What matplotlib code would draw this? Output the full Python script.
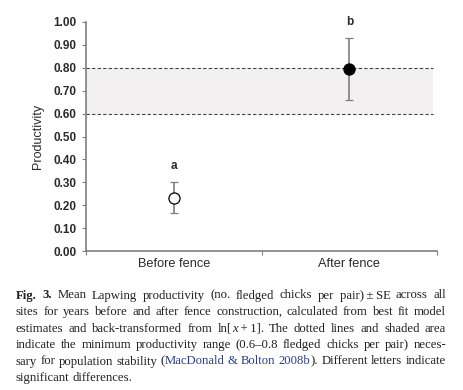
import numpy as np
import matplotlib
matplotlib.use("Agg")
import matplotlib.pyplot as plt
from matplotlib.ticker import FixedLocator

# data
groups = ["Before fence", "After fence"]
means = [0.233, 0.793]
upper = [0.300, 0.930]
lower = [0.166, 0.660]
letters = ["a", "b"]
letter_y = [0.37, 1.00]
band = (0.6, 0.8)
yticks = [0.0, 0.1, 0.2, 0.3, 0.4, 0.5, 0.6, 0.7, 0.8, 0.9, 1.0]

# caption: lines -> words -> runs of (text, style)
N, B, I, L = None, "bold", "italic", "link"
caption = [
    [[("Fig.", B)], [("3.", B)]] + [[(w, N)] for w in
        "Mean Lapwing productivity (no. fledged chicks per pair)\u2009\u00b1\u2009SE across all".split(" ")],
    [[(w, N)] for w in "sites for years before and after fence construction, calculated from best fit model".split(" ")],
    [[(w, N)] for w in "estimates and back-transformed from".split(" ")]
        + [[("ln[", N), ("x", I), ("\u2009+\u20091].", N)]]
        + [[(w, N)] for w in "The dotted lines and shaded area".split(" ")],
    [[(w, N)] for w in "indicate the minimum productivity range (0.6\u20130.8 fledged chicks per pair) neces-".split(" ")],
    [[(w, N)] for w in "sary for population stability".split(" ")]
        + [[("(", N), ("MacDonald", L)], [("&", L)], [("Bolton", L)], [("2008b", L), (").", N)]]
        + [[(w, N)] for w in "Different letters indicate".split(" ")],
    [[(w, N)] for w in "significant differences.".split(" ")],
]

plt.rcParams['font.family'] = ['Liberation Sans', 'DejaVu Sans']
gray = "#7f7f7f"
txt = "#2a2a2a"

fig = plt.figure(figsize=(4.63, 3.90), dpi=100)
ax = fig.add_axes([0.186, 0.356, 0.758, 0.588])

x = np.arange(len(groups)) + 0.5
ax.axhspan(band[0], band[1], xmin=0, xmax=0.987, color="#f2f0f0", lw=0, zorder=0)
for b in band:
    ax.plot([0, 1.975], [b, b], ls=(0, (3, 2)), color="#444444", lw=0.8, zorder=1)

faces = ["white", "black"]
for i in range(len(groups)):
    ax.errorbar(x[i], means[i],
                yerr=[[means[i] - lower[i]], [upper[i] - means[i]]],
                fmt="o", ms=8, mfc=faces[i], mec="black", mew=0.9,
                ecolor=gray, elinewidth=1.2, capsize=3, capthick=1, zorder=3)
    ax.text(x[i], letter_y[i], letters[i], ha="center", va="center",
            fontsize=8.5, color=txt, fontweight="bold")

ax.set_xlim(0, 2)
ax.set_ylim(0, 1)
ax.set_yticks(yticks)
ax.set_yticklabels([f"{v:.2f}" for v in yticks])
ax.xaxis.set_major_locator(FixedLocator([0, 1, 2]))
ax.set_xticklabels([])
ax.xaxis.set_minor_locator(FixedLocator(list(x)))
ax.set_xticklabels(groups, minor=True)
ax.tick_params(axis="x", which="major", length=3, direction="out", color=gray)
ax.tick_params(axis="x", which="minor", length=0, pad=5, labelsize=9.2, labelcolor=txt)
ax.tick_params(axis="y", length=3, color=gray, labelsize=8.5, labelcolor=txt, pad=4)
for lab in ax.get_yticklabels():
    lab.set_fontweight("bold")
for s in ["top", "right"]:
    ax.spines[s].set_visible(False)
for s in ["left", "bottom"]:
    ax.spines[s].set_color(gray)
    ax.spines[s].set_linewidth(1.2)
ax.set_ylabel("Productivity", fontsize=9, color=txt, labelpad=7)

# caption, justified word by word
fig.canvas.draw()
renderer = fig.canvas.get_renderer()
x0, x1 = 16, 446
H, W = 390, 463
line_y = [298.5, 315, 331.5, 348, 364.5, 381]   # baselines in pixels from top
fs = 9.2
space = 2.6
for li, words in enumerate(caption):
    placed = []
    for runs in words:
        objs = []
        for t, style in runs:
            kw = dict(fontsize=fs, family=["Liberation Serif", "DejaVu Serif"], color="#222222",
                      va="baseline", ha="left")
            if style == B:
                kw["fontweight"] = "bold"
            if style == I:
                kw["style"] = "italic"
            if style == L:
                kw["color"] = "#2b3d8f"
            objs.append(fig.text(0, 0, t, **kw))
        ws = [o.get_window_extent(renderer).width for o in objs]
        placed.append((objs, ws))
    total = sum(sum(ws) for _, ws in placed)
    if li < len(caption) - 1 and len(placed) > 1:
        gap = max((x1 - x0 - total) / (len(placed) - 1), 1.5)
    else:
        gap = space
    pos = x0
    for objs, ws in placed:
        for o, w in zip(objs, ws):
            o.set_position((pos / W, 1 - line_y[li] / H))
            pos += w
        pos += gap

fig.savefig("out.png", dpi=100)
